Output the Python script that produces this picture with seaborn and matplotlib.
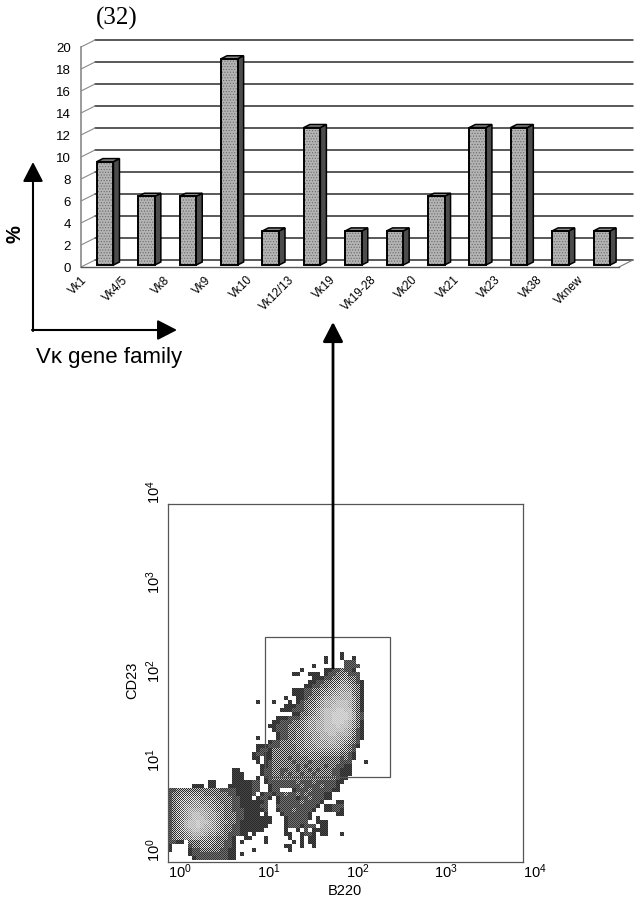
import numpy as np
import matplotlib
matplotlib.use("Agg")
import matplotlib.pyplot as plt
import matplotlib.transforms as mtransforms
from matplotlib.patches import Polygon, Rectangle
from matplotlib.ticker import LogLocator, NullFormatter
import seaborn as sns

WIDTH = 635
HEIGHT = 900

# bar chart values (percent of 32 clones)
families = ["Vk1", "Vk4/5", "Vk8", "Vk9", "Vk10", "Vk12/13", "Vk19", "Vk19-28",
            "Vk20", "Vk21", "Vk23", "Vk38", "Vknew"]
percent = [9.4, 6.25, 6.25, 18.75, 3.1, 12.5, 3.1, 3.1, 6.25, 12.5, 12.5, 3.1, 3.1]
percent_ticks = [0, 2, 4, 6, 8, 10, 12, 14, 16, 18, 20]

# flow plot: sort gate and decade ticks
gate_b220 = [12.4, 317]
gate_cd23 = [8.9, 326]
decades = [1, 10, 100, 1000, 10000]
decade_labels = ["$\\mathregular{10^{%d}}$" % i for i in range(5)]

# grey and halftone strength for each density level (index 0 is unused)
level_grey = [1.0, 0.22, 0.33, 0.47, 0.55, 0.61, 0.67, 0.72, 0.77, 0.81]
level_dither = [0.0, 0.06, 0.12, 0.32, 0.36, 0.32, 0.25, 0.15, 0.08, 0.04]

# density, one string per row, 4 px cells ('.' is no events)
density_rows = [
    "",
    ".......... .......... .......... .......... ...1......",
    ".......... .......... .......... .........1 ...1..1...",
    ".......... .......... .......... .........1 ....222...",
    ".......... .......... .......... ......1... ....2222..",
    ".......... .......... .......... ...1.....1 1223221...",
    ".......... .......... .......... .11..111.1 22334222..",
    ".......... .......... .......... ......1112 23344332..",
    ".......... .......... .......... .....11223 344554321.",
    ".......... .......... .......... ....112233 445665431.",
    ".......... .......... .......... .111223344 556666431.",
    ".......... .......... .......... .111223345 566777431.",
    ".......... .......... .........1 ..11233456 677777531.",
    ".......... .......... ..1...1... 1.12334567 778887531.",
    ".......... .......... .........1 1122344567 788887531.",
    ".......... .......... ........11 1222345678 889988531.",
    ".......... .......... .......... .113345678 899998632.",
    ".......... .......... .......111 2223456678 899998632.",
    ".......... .......... ......1122 2334566778 899987531.",
    ".......... .......... .....11222 3334566778 889887531.",
    ".......... .......... ......1222 3344566778 888876421.",
    ".......... .......... .......122 3344556677 887776421.",
    ".......... .......... ..1....122 3344556677 777665321.",
    ".......... .......... .....12233 3444556666 77665432..",
    ".......... .......... ..11122233 3344555666 66654321..",
    ".......... .......... ..12213333 3344455555 5554432...",
    ".......... .......... .122113333 3334444444 4443321...",
    ".......... .......... .11.113333 2333344433 3332321...",
    ".......... .......... ..1.123333 3233323333 333222...1",
    ".......... .......... ...1123333 3323233332 332211....",
    ".......... ......11.. ...1223322 3323323233 322111....",
    ".......... ......111. ...1223323 2332332333 322111....",
    ".......... ......111. ..1.123333 3333333333 33211.....",
    ".......... 11....1111 122.122222 2232223222 2211......",
    "......111. 11...11111 122..12222 2223222232 221.......",
    "2233333333 3332222111 122..122.. .122232222 211.......",
    "2334444443 3333322111 12.1221223 2232322221 1.........",
    "2344555544 4433332211 1.1221.122 2212232221 1.........",
    "2345556655 5443332211 11112..122 222322221. ..11......",
    "2345666666 5544332211 11122..222 22222221.1 1222......",
    "2345677776 6544332221 11112..122 2322221..1 1221......",
    "2345678877 6654333221 111.1...12 222221.... ..11......",
    "2345678887 6654333221 111111...1 222221.1.. ..........",
    "2345788988 7654433211 111111...1 22222..111 ..........",
    "2345788987 7654332211 11111....1 2221222.11 ..........",
    "2345678877 6654332211 1111.....1 ..1.2.1111 ..........",
    "2344567776 5544322211 .1.......1 1..1221.11 ...1......",
    "2344556655 4433321..1 1...1..... 1..1.11... ..........",
    "2211.33344 4433221.1. ....1..... .1.1.11... ..........",
    "1....23344 4333221... .........1 1..1..1... ..........",
    "1....12233 3332211... .1........ 1......... ..........",
    ".....12222 2222211.1. .......... .......... ..........",
    "......1222 2222211... .......... .......... ..........",
]


def box(left, top, right, bottom):
    # axes rectangle from pixel edges, top left origin
    return [left / WIDTH, 1 - bottom / HEIGHT, (right - left) / WIDTH, (bottom - top) / HEIGHT]


def draw_bars(fig):
    ax = fig.add_axes(box(81, 47, 619, 267))
    # edge colour here only sets the hatch colour, the outline is added below
    sns.barplot(x=families, y=percent, color="#b4b4b4", saturation=1, width=0.4,
                edgecolor="#6a6a6a", linewidth=0, ax=ax, zorder=5)
    ax.set_xlim(-0.5, 12.5)
    ax.set_ylim(0, 20)
    ax.patch.set_visible(False)

    # the 3d look: bars sit a little behind the axis, the wall further back
    bar_plane = mtransforms.offset_copy(ax.transData, fig=fig, x=3.5, y=2, units="dots")
    wall_plane = mtransforms.offset_copy(ax.transData, fig=fig, x=14, y=7, units="dots")

    depth_x = 6 / 41.4
    depth_y = 3 / 11
    for bar in list(ax.patches)[:len(families)]:
        bar.set_transform(bar_plane)
        bar.set_hatch("......")
        bar.set_clip_on(False)
        x0, x1, h = bar.get_x(), bar.get_x() + bar.get_width(), bar.get_height()
        side = [(x1, 0), (x1 + depth_x, depth_y), (x1 + depth_x, h + depth_y), (x1, h)]
        top = [(x0, h), (x1, h), (x1 + depth_x, h + depth_y), (x0 + depth_x, h + depth_y)]
        ax.add_patch(Polygon(side, closed=True, fc="#4c4c4c", ec="black", lw=1.1,
                             transform=bar_plane, zorder=4, clip_on=False))
        ax.add_patch(Polygon(top, closed=True, fc="#8c8c8c", ec="black", lw=1.1,
                             transform=bar_plane, zorder=4, clip_on=False))
        ax.add_patch(Rectangle((x0, 0), x1 - x0, h, fill=False, ec="black", lw=1.4,
                               transform=bar_plane, zorder=6, clip_on=False))

    # wall lines and the short connectors to the axis
    for tick in percent_ticks:
        ax.plot([-0.5, 12.5], [tick, tick], color="#2b2b2b", lw=1.1, transform=wall_plane,
                zorder=1, clip_on=False)
        ax.plot([-0.5, -0.5 + 14 / 41.4], [tick, tick + 7 / 11], color="#8a8a8a", lw=0.8,
                zorder=1, clip_on=False)
    ax.plot([12.5, 12.5 + 14 / 41.4], [0, 7 / 11], color="#777777", lw=0.8, zorder=1, clip_on=False)

    ax.set_yticks(percent_ticks)
    ax.set_xticks(np.arange(-0.5, 13, 1))
    ax.set_xticklabels(families + [""], rotation=45, ha="right", rotation_mode="anchor")
    ax.tick_params(axis="y", length=5, width=0.8, color="#555555", labelsize=9.5, pad=2.5)
    ax.tick_params(axis="x", length=4, width=0.8, color="#555555", labelsize=8.5, pad=1)
    for name in ["top", "right"]:
        ax.spines[name].set_visible(False)
    ax.spines["left"].set_color("#8a8a8a")
    ax.spines["left"].set_linewidth(1.2)
    ax.spines["bottom"].set_color("#555555")
    ax.spines["bottom"].set_linewidth(1)


def draw_flow(fig):
    # events first, the log axes and the gate go on top
    density = np.array([[0 if c == "." else int(c) for c in row.replace(" ", "").ljust(52, ".")]
                        for row in density_rows])

    # the print is a 1 px halftone, so spread each 4 px cell over 16 pixels
    fine = np.kron(density, np.ones((4, 4), dtype=int))
    rows, cols = np.indices(fine.shape)
    checker = 2 * ((rows + cols) % 2) - 1
    shade = np.array(level_grey)[fine] + np.array(level_dither)[fine] * checker

    cloud = fig.add_axes(box(168, 648, 376, 860), zorder=1)
    sns.heatmap(shade, mask=fine == 0, cmap="gray", vmin=0, vmax=1, cbar=False,
                xticklabels=False, yticklabels=False, ax=cloud)

    ax = fig.add_axes(box(168, 504, 523, 862), zorder=2)
    ax.patch.set_visible(False)
    ax.set_xscale("log")
    ax.set_yscale("log")
    ax.set_xlim(decades[0], decades[-1])
    ax.set_ylim(decades[0], decades[-1])
    ax.add_patch(Rectangle((gate_b220[0], gate_cd23[0]), gate_b220[1] - gate_b220[0],
                           gate_cd23[1] - gate_cd23[0], fill=False, ec="#555555", lw=0.9))

    for axis in [ax.xaxis, ax.yaxis]:
        axis.set_major_locator(LogLocator(base=10, numticks=6))
        axis.set_minor_locator(LogLocator(base=10, subs=np.arange(2, 10), numticks=6))
        axis.set_minor_formatter(NullFormatter())
    ax.set_xticks(decades)
    ax.set_yticks(decades)
    ax.set_xticklabels(decade_labels, ha="left")
    ax.set_yticklabels(decade_labels, rotation=90, va="bottom", ha="center")
    ax.tick_params(which="major", length=3, width=0.7, color="#444444", labelsize=10.5)
    ax.tick_params(which="minor", length=1.5, width=0.6, color="#444444")
    ax.tick_params(axis="x", which="major", pad=-3)
    ax.tick_params(axis="y", which="major", pad=7)
    for name, spine in ax.spines.items():
        spine.set_linewidth(0.9)
        spine.set_color("#555555")


def draw_notes(fig):
    # labels and hand drawn arrows on a pixel sized layer
    ax = fig.add_axes([0, 0, 1, 1], zorder=5)
    ax.set_xlim(0, WIDTH)
    ax.set_ylim(HEIGHT, 0)
    ax.axis("off")

    ax.text(117, 18, "(32)", family="Liberation Serif", fontsize=18, ha="center", va="center")
    ax.text(15, 234, "%", fontweight="bold", fontsize=14.5, rotation=90, ha="center", va="center")
    ax.text(36, 357, "V\u03ba gene family", fontsize=16, ha="left", va="center")
    ax.text(345, 891, "B220", fontsize=10.5, ha="center", va="center")
    ax.text(132, 680, "CD23", fontsize=10.5, rotation=90, ha="center", va="center")

    style = dict(arrowstyle="-|>,head_length=1.2,head_width=0.62", color="black",
                 mutation_scale=10, shrinkA=0, shrinkB=0)
    ax.annotate("", xy=(33, 162), xytext=(33, 331), arrowprops=dict(lw=1.5, **style))
    ax.annotate("", xy=(177, 330), xytext=(32, 330), arrowprops=dict(lw=1.5, **style))
    ax.annotate("", xy=(333, 322), xytext=(333, 668), arrowprops=dict(lw=2, **style))


sns.set_style("white")
plt.rcParams["font.family"] = ["Liberation Sans", "DejaVu Sans"]
plt.rcParams["text.color"] = "black"
plt.rcParams["xtick.labelcolor"] = "black"
plt.rcParams["ytick.labelcolor"] = "black"
plt.rcParams["hatch.linewidth"] = 0.5

fig = plt.figure(figsize=(WIDTH / 100, HEIGHT / 100), dpi=100)

draw_bars(fig)
draw_flow(fig)
draw_notes(fig)

fig.savefig("out.png", dpi=100)
